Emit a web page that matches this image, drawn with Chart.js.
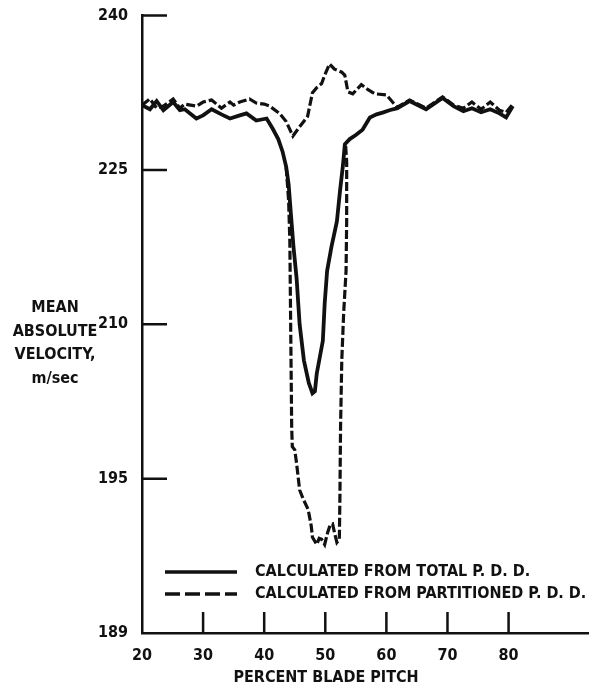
<!DOCTYPE html>
<html>
<head>
<meta charset="utf-8">
<script src="https://cdn.jsdelivr.net/npm/chart.js@4.4.1/dist/chart.umd.min.js"></script>
<style>
  html, body { margin: 0; padding: 0; background: #fff; }
  #wrap { width: 595px; height: 695px; }
</style>
</head>
<body>
<div id="wrap"><canvas id="chart" width="595" height="695"></canvas></div>
<script>
// x: percent blade pitch, y: mean absolute velocity (m/sec)
const totalX = [20, 21.3, 22.4, 23.5, 25.1, 26.2, 27.0, 28.9, 30.0, 31.4, 33.0, 34.4, 36.0, 37.1, 38.7, 40.4,
  41.4, 42.3, 43.0, 43.6, 44.0, 44.4, 44.8, 45.3, 45.8, 46.5, 47.3, 47.9, 48.3, 48.6, 49.1, 49.6, 49.9, 50.3,
  51.0, 51.9, 52.4, 52.9, 53.2, 54.0, 55.0, 56.1, 57.3, 58.4, 59.5, 60.5, 61.8,
  63.8, 66.5, 69.2, 71.0, 72.6, 74.0, 75.5, 77.0, 78.5, 79.6, 80.7];
const totalY = [231.3, 230.9, 231.7, 230.8, 231.6, 230.8, 230.9, 230.0, 230.3, 230.9, 230.4, 230.0, 230.3, 230.5, 229.8, 230.0,
  229.0, 228.0, 226.8, 225.3, 223.6, 220.5, 217.5, 214.5, 210.0, 206.5, 204.3, 203.3, 203.5, 205.2, 206.8, 208.4, 212.0, 215.2,
  217.5, 220.0, 222.9, 225.5, 227.5, 228.0, 228.4, 228.9, 230.1, 230.4, 230.6, 230.8, 231.0,
  231.7, 230.9, 232.0, 231.2, 230.7, 231.0, 230.6, 230.9, 230.5, 230.1, 231.2];

// partitioned P.D.D., core flow
const partX = [20, 21.3, 22.4, 23.5, 25.1, 26.2, 27.0, 28.9, 30.0, 31.4, 33.0, 34.4, 35.0, 36.0, 37.6, 38.7, 40.0, 40.9,
  42.5, 43.6, 44.7, 45.8, 47.1, 47.9, 48.6, 49.4, 49.9, 50.7, 51.5, 52.7, 53.2, 53.7, 54.5, 55.9, 57.0, 58.1, 60.0, 61.0, 61.8,
  63.8, 66.5, 69.2, 71.0, 72.6, 74.0, 75.5, 77.0, 78.5, 79.6, 80.7];
const partY = [231.3, 231.9, 231.0, 231.2, 231.9, 231.0, 231.4, 231.2, 231.6, 231.8, 231.0, 231.6, 231.3, 231.6, 231.9, 231.5, 231.4, 231.2,
  230.5, 229.7, 228.3, 229.2, 230.2, 232.5, 233.0, 233.4, 234.2, 235.3, 234.8, 234.5, 234.2, 232.6, 232.4, 233.3, 232.8, 232.4, 232.3, 231.6, 231.1,
  231.8, 231.0, 232.1, 231.3, 231.0, 231.6, 230.9, 231.6, 230.8, 230.6, 231.4];

// partitioned P.D.D., wake
const wakeX = [43.6, 44.0, 44.2, 44.3, 44.4, 44.5, 44.6, 45.0, 45.3, 45.8, 46.4, 47.2, 47.7, 47.9, 48.6, 49.0, 49.4, 49.9,
  50.4, 50.8, 51.2, 51.6, 51.9, 52.3, 52.4, 52.5, 52.7, 53.0, 53.4, 53.5, 53.5, 53.3];
const wakeY = [225.3, 222.0, 218.0, 212.0, 206.0, 200.0, 198.1, 197.8, 196.5, 193.9, 193.0, 192.0, 190.4, 189.3, 188.6, 189.2, 189.1, 188.6,
  189.8, 190.5, 190.6, 189.5, 188.8, 189.1, 193.5, 200.0, 206.5, 211.0, 215.2, 220.0, 225.8, 227.6];

const xTicks = [20, 30, 40, 50, 60, 70, 80];
const yTicks = [180, 195, 210, 225, 240];
const yTickLabels = ['189', '195', '210', '225', '240'];
const yTitleLines = ['MEAN', 'ABSOLUTE', 'VELOCITY,', 'm/sec'];
const legendLabels = ['CALCULATED FROM TOTAL P. D. D.', 'CALCULATED FROM PARTITIONED P. D. D.'];

const INK = '#111';
const FONT = '"DejaVu Sans Condensed", "DejaVu Sans", sans-serif';
const toPts = (xs, ys) => xs.map((x, i) => ({ x: x, y: ys[i] }));

// inward tick marks, hand lettered labels and the legend
const decor = {
  id: 'decor',
  afterDraw(chart) {
    const ctx = chart.ctx;
    const xs = chart.scales.x, ys = chart.scales.y;
    const area = chart.chartArea;
    ctx.save();
    ctx.strokeStyle = INK;
    ctx.lineWidth = 2.5;
    ctx.beginPath();
    yTicks.forEach(v => {
      const py = ys.getPixelForValue(v);
      if (v === yTicks[0]) return;
      ctx.moveTo(area.left, py);
      ctx.lineTo(area.left + 25, py);
    });
    xTicks.forEach(v => {
      const px = xs.getPixelForValue(v);
      if (v === xTicks[0]) return;
      ctx.moveTo(px, area.bottom);
      ctx.lineTo(px, area.bottom - 21);
    });
    ctx.stroke();

    ctx.fillStyle = INK;
    ctx.font = 'bold 16px ' + FONT;
    ctx.textAlign = 'center';
    ctx.textBaseline = 'middle';
    yTitleLines.forEach((t, i) => ctx.fillText(t, 55, 308 + i * 23.5));
    ctx.fillText('PERCENT BLADE PITCH', 326, 678);

    // legend
    const ly = [572, 594];
    ctx.lineWidth = 3.5;
    ctx.beginPath();
    ctx.setLineDash([]);
    ctx.moveTo(165, ly[0]);
    ctx.lineTo(237, ly[0]);
    ctx.stroke();
    ctx.beginPath();
    ctx.setLineDash([15, 5]);
    ctx.moveTo(165, ly[1]);
    ctx.lineTo(237, ly[1]);
    ctx.stroke();
    ctx.setLineDash([]);
    ctx.textAlign = 'left';
    legendLabels.forEach((t, i) => ctx.fillText(t, 255, ly[i]));
    ctx.restore();
  }
};

const lineStyle = { borderColor: INK, pointRadius: 0, tension: 0, fill: false, showLine: true };

new Chart(document.getElementById('chart'), {
  type: 'scatter',
  data: {
    datasets: [
      Object.assign({ label: legendLabels[0], data: toPts(totalX, totalY), borderWidth: 3.8 }, lineStyle),
      Object.assign({ label: legendLabels[1], data: toPts(partX, partY), borderWidth: 3.2, borderDash: [9, 3] }, lineStyle),
      Object.assign({ label: 'wake', data: toPts(wakeX, wakeY), borderWidth: 3.2, borderDash: [9, 3] }, lineStyle)
    ]
  },
  options: {
    responsive: false,
    animation: false,
    layout: { padding: { top: 13, right: 7, left: 0, bottom: 0 } },
    plugins: { legend: { display: false }, tooltip: { enabled: false } },
    scales: {
      x: {
        type: 'linear', min: 20, max: 93,
        afterBuildTicks: s => { s.ticks = xTicks.map(v => ({ value: v })); },
        afterFit: s => { s.height = 62; },
        grid: { display: false },
        border: { display: true, color: INK, width: 2.5 },
        ticks: { color: INK, padding: 5, maxRotation: 0, font: { family: FONT, size: 16, weight: 'bold' } }
      },
      y: {
        type: 'linear', min: 180, max: 240,
        afterBuildTicks: s => { s.ticks = yTicks.map(v => ({ value: v })); },
        afterFit: s => { s.width = 142; },
        grid: { display: false },
        border: { display: true, color: INK, width: 2.5 },
        ticks: {
          color: INK, padding: 6, font: { family: FONT, size: 16, weight: 'bold' },
          callback: (v) => yTickLabels[yTicks.indexOf(v)]
        }
      }
    }
  },
  plugins: [decor]
});
</script>
</body>
</html>
